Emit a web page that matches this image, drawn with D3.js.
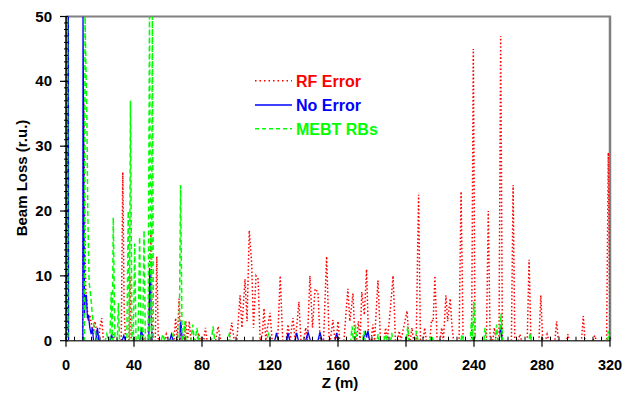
<!DOCTYPE html>
<html>
<head>
<meta charset="utf-8">
<script src="https://cdn.jsdelivr.net/npm/d3@7"></script>
<style>
  body { margin: 0; background: #fff; }
  text { font-family: Arial, "Liberation Sans", sans-serif; font-weight: bold; }
</style>
</head>
<body>
<div id="chart"></div>
<script>
// beam loss along z: [z (m), loss (r.u.)]
var rfError = [
  [0,0],[0.3,50],[0.7,0],
  [9.8,0],[10.4,37],[11,20],[11.6,8],[12.3,6],[13,3],[14,4],[15,2.5],[16,1],[17,3],[18,1.5],[19,0],[20,2],[21,3.5],[22,0],
  [27,0],[27.8,1],[28.6,0],
  [32.5,0],[33.4,26],[34.2,5],[35,0],[37,0],[37.6,10],[38.3,0],
  [44,0],[45,2],[46,0],
  [48.3,0],[49.2,12],[50,17],[50.8,0],[52.5,0],[53.4,13],[54.3,0],
  [58,0],[59,1],[60,0],
  [63.5,0],[64.5,3.5],[65.5,0],[66.5,6.5],[67.5,0],[69.5,0],[70.5,3],[71.5,0],[72.5,3],[73.5,0],
  [77,0],[78,1.2],[79,0],[81,0],[82,2],[83,0],
  [88,0],[89.5,2.2],[91,0],[96,0],[97.5,2.8],[99,0],
  [100.5,0],[102.4,7],[103.5,2],[105.3,9.5],[106.5,3],[107.8,17],[109.2,12],[110.3,2],[111.8,10],[113,9.5],[114.2,0],
  [115.5,1],[116.5,5],[117.5,0],[118.5,2],[120,4.3],[121.3,0],
  [124.5,0],[126,10],[127.5,0],
  [129.5,0],[130.6,2.5],[131.8,0],[133.5,3.5],[134.8,0],[136,3],[137,6],[138.2,0],
  [140,0],[141,2],[142,0],[143.5,10],[145,2],[146.5,8],[148.2,7.5],[149.5,0],
  [151.5,0],[153.3,13],[154.8,0],[155.5,0],[157,3.2],[158.2,0],[159,0],[160,3],[161,0],
  [163.5,0],[165.8,8],[167,3],[168.8,7.3],[170,0],
  [171,0],[172,3],[173,0],[174,7.5],[175.5,4],[176.8,11],[178,0],
  [179.5,0],[180.5,2.5],[181.5,0],[183.5,9.3],[185,0],
  [187,0],[188,2],[189,0],[190.5,4],[192.4,10],[193.8,0],
  [195,0],[196,1.5],[197,0],[199,2.5],[200.6,4.6],[201.8,0],
  [202.5,0],[203.5,2],[204.5,0],[206,0],[207.4,22.5],[208.5,0],
  [210,0],[211,2],[212,0],[214,0],[215,3.2],[216,3],[217,10],[218.3,0],
  [220,0],[221,2],[222,0],[223.5,7],[224.5,3],[226,6.5],[227,2.4],[228,0],
  [231.2,0],[232.4,23],[233.6,0],
  [238.6,0],[239.6,45],[240.6,0],
  [247.3,0],[248.4,20],[249.5,0],[251,0],[252,2],[253,0],
  [254.7,0],[255.7,47],[256.7,0],
  [262,0],[263,24],[264,0],[266,0],[267,1],[268,0],
  [271.3,0],[272.4,12.5],[273.5,0],
  [278.2,0],[279.3,7],[280.4,0],[282,0],[283,1],[284,0],
  [287.6,0],[288.6,3],[289.6,0],[294.5,0],[295.3,1],[296,0],
  [303.2,0],[304.3,3.8],[305.3,0],[310,0],[311,0.8],[312,0],
  [318,0],[319,29],[320,0]
];

var noError = [
  [0,0],[1.2,50],[1.4,50],[1.5,0],
  [9.9,0],[10,50],[10.3,37],[10.6,19],[10.9,4],[11.3,7],[12,7],[12.6,3.5],[13.2,4],[14,2],[14.8,1],[15.5,2],[16.2,0],
  [17.5,0],[18.5,2],[19.3,0],
  [26,0],[26.8,1],[27.6,0],[33,0],[34,0.8],[35,0],
  [43.5,0],[44.4,2],[45.3,0],
  [48.7,0],[49.3,11],[49.8,8],[50.2,3],[50.6,0],
  [61,0],[62,1],[63,0],[66.8,0],[67.6,3],[68.4,0],
  [122.8,0],[123.8,1.2],[124.8,0],[129.6,0],[130.6,1.2],[131.6,0],
  [134.7,0],[135.7,1.2],[136.7,0],[141,0],[142.4,1.3],[143.8,0],
  [148.2,0],[149.4,1.3],[150.6,0],[158.2,0],[159.2,1.2],[160.2,0],
  [174.8,0],[176,1.5],[176.8,0.5],[177.6,1.5],[178.6,0],
  [254.8,0],[255.7,2.5],[256.6,0],
  [320,0]
];

var mebtRBs = [
  [0,0],[0.7,50],[0.9,50],[1.1,0],
  [10.8,0],[11.2,50],[12.3,34],[12.8,20],[13.6,9],[14.5,7],[15.5,4],[16.5,2],[17.5,1],[18.5,0],
  [23,0],[24,1],[25,0],
  [25.8,0],[26.6,7.5],[27.2,0],[27.8,19],[28.8,0],[30.2,0],[30.8,5.8],[31.5,0],
  [35.8,0],[36.6,20],[37.3,0],[37.9,37],[38.8,0],
  [39.6,0],[40.4,15],[41.2,0],[42.4,0],[43.3,16],[44.2,0],[45.1,0],[45.9,17],[46.7,0],
  [48.3,0],[49.1,50],[49.6,22],[50.2,0],[50.8,50],[51.4,0],
  [56,0],[57,1],[58,0],[62,0],[63,1],[64,0],
  [66.6,0],[67.4,24],[68.3,0],[69,0],[69.8,3],[70.6,0],
  [73.5,0],[74.5,2.5],[75.5,0],[76,0],[77,2],[78,0],
  [85.5,0],[86.5,2.2],[87.5,0],[95,0],[96,1],[97,0],
  [118,0],[119,1],[120,0],
  [167.5,0],[168.3,2.2],[169,0],[169.5,0],[170.2,2.5],[171,0],
  [174.5,0],[175.3,1.5],[176,0],[183,0],[183.6,1],[184.2,0],
  [187,0],[188,1],[189,0],[191,0],[191.6,1.2],[192.3,0],
  [200.3,0],[201,2.2],[201.7,0],[205.5,0],[206.2,1.5],[207,0],
  [214,0],[215,0.8],[216,0],[232.3,0],[233,1],[233.7,0],
  [237.8,0],[238.6,3.5],[239.2,0],[239.9,6],[240.8,0],
  [245.8,0],[246.5,2],[247.2,0],
  [252.6,0],[253.3,2.5],[254,0],[255,0],[255.9,4.2],[256.8,0],
  [272.3,0],[273,1.2],[273.7,0],
  [318.3,0],[319,1.5],[319.7,0],[320,0]
];

var xTicks = [0, 40, 80, 120, 160, 200, 240, 280, 320];
var yTicks = [0, 10, 20, 30, 40, 50];
var legendLabels = ['RF Error', 'No Error', 'MEBT RBs'];

var width = 636,
    height = 394,
    plotLeft = 66, plotRight = 610, plotTop = 16.5, plotBottom = 340.7;

var svg = d3.select('#chart').append('svg')
  .attr('width', width)
  .attr('height', height);

var x = d3.scaleLinear().domain([0, 320]).range([plotLeft, plotRight]);
var y = d3.scaleLinear().domain([0, 50]).range([plotBottom, plotTop]);

svg.append('clipPath').attr('id', 'plot-clip')
  .append('rect')
  .attr('x', plotLeft).attr('y', plotTop)
  .attr('width', plotRight - plotLeft).attr('height', plotBottom - plotTop);

// frame: grey top and right, black axes
svg.append('line')
  .attr('x1', plotLeft).attr('y1', plotTop).attr('x2', plotRight + 1).attr('y2', plotTop)
  .attr('stroke', '#808080').attr('stroke-width', 2);
svg.append('line')
  .attr('x1', plotRight).attr('y1', plotTop).attr('x2', plotRight).attr('y2', plotBottom)
  .attr('stroke', '#808080').attr('stroke-width', 2.5);

var line = d3.line()
  .x(function(d) { return x(d[0]); })
  .y(function(d) { return y(d[1]); });

var series = [
  { data: rfError, color: '#ff0000', dash: '1.5,2.2', w: 1.5 },
  { data: noError, color: '#0000ff', dash: null, w: 1.3 },
  { data: mebtRBs, color: '#00ff00', dash: '5,3', w: 1.5 }
];

var plot = svg.append('g').attr('clip-path', 'url(#plot-clip)');

plot.selectAll('path')
  .data(series)
  .enter().append('path')
  .attr('d', function(d) { return line(d.data); })
  .attr('fill', 'none')
  .attr('stroke', function(d) { return d.color; })
  .attr('stroke-width', function(d) { return d.w; })
  .attr('stroke-dasharray', function(d) { return d.dash; });

// x axis
var xAxis = svg.append('g');
xAxis.append('line')
  .attr('x1', plotLeft).attr('y1', plotBottom).attr('x2', plotRight).attr('y2', plotBottom)
  .attr('stroke', '#404040').attr('stroke-width', 1.5);
xAxis.selectAll('line.minor')
  .data(d3.range(5, 320, 5))
  .enter().append('line')
  .attr('class', 'minor')
  .attr('x1', function(d) { return x(d); }).attr('x2', function(d) { return x(d); })
  .attr('y1', plotBottom - 4).attr('y2', plotBottom)
  .attr('stroke', '#000').attr('stroke-width', 1);
xAxis.selectAll('line.major')
  .data(xTicks)
  .enter().append('line')
  .attr('class', 'major')
  .attr('x1', function(d) { return x(d); }).attr('x2', function(d) { return x(d); })
  .attr('y1', plotBottom - 4).attr('y2', plotBottom + 6)
  .attr('stroke', '#000').attr('stroke-width', 1.2);
xAxis.selectAll('text')
  .data(xTicks)
  .enter().append('text')
  .attr('x', function(d) { return x(d); })
  .attr('y', 369.5)
  .attr('text-anchor', 'middle')
  .attr('font-size', '14.5px')
  .text(String);

// y axis
var yAxis = svg.append('g');
yAxis.append('line')
  .attr('x1', plotLeft).attr('y1', plotTop).attr('x2', plotLeft).attr('y2', plotBottom)
  .attr('stroke', '#000').attr('stroke-width', 1.5);
yAxis.selectAll('line.minor')
  .data(d3.range(1, 50))
  .enter().append('line')
  .attr('class', 'minor')
  .attr('x1', plotLeft - 2).attr('x2', plotLeft + 2)
  .attr('y1', function(d) { return y(d); }).attr('y2', function(d) { return y(d); })
  .attr('stroke', '#000').attr('stroke-width', 1);
yAxis.selectAll('line.major')
  .data(yTicks)
  .enter().append('line')
  .attr('class', 'major')
  .attr('x1', plotLeft - 6).attr('x2', plotLeft + 2)
  .attr('y1', function(d) { return y(d); }).attr('y2', function(d) { return y(d); })
  .attr('stroke', '#000').attr('stroke-width', 1.2);
yAxis.selectAll('text')
  .data(yTicks)
  .enter().append('text')
  .attr('x', 52)
  .attr('y', function(d) { return y(d) + 5; })
  .attr('text-anchor', 'end')
  .attr('font-size', '15px')
  .text(String);

svg.append('text')
  .attr('transform', 'translate(27,178) rotate(-90)')
  .attr('text-anchor', 'middle')
  .attr('font-size', '15px')
  .text('Beam Loss (r.u.)');

svg.append('text')
  .attr('x', 340).attr('y', 388)
  .attr('text-anchor', 'middle')
  .attr('font-size', '15px')
  .text('Z (m)');

// legend
var legend = svg.append('g').selectAll('g')
  .data(series)
  .enter().append('g')
  .attr('transform', function(d, i) { return 'translate(255,' + [80.7, 105, 128.7][i] + ')'; });
legend.append('line')
  .attr('x1', 0).attr('x2', 37).attr('y1', 0).attr('y2', 0)
  .attr('stroke', function(d) { return d.color; })
  .attr('stroke-width', function(d) { return d.w; })
  .attr('stroke-dasharray', function(d) { return d.dash ? (d.dash === '5,3' ? '4,3' : '1.5,3') : null; });
legend.append('text')
  .attr('x', 41).attr('y', 6.3)
  .attr('font-size', '16px')
  .attr('fill', function(d) { return d.color; })
  .text(function(d, i) { return legendLabels[i]; });
</script>
</body>
</html>
